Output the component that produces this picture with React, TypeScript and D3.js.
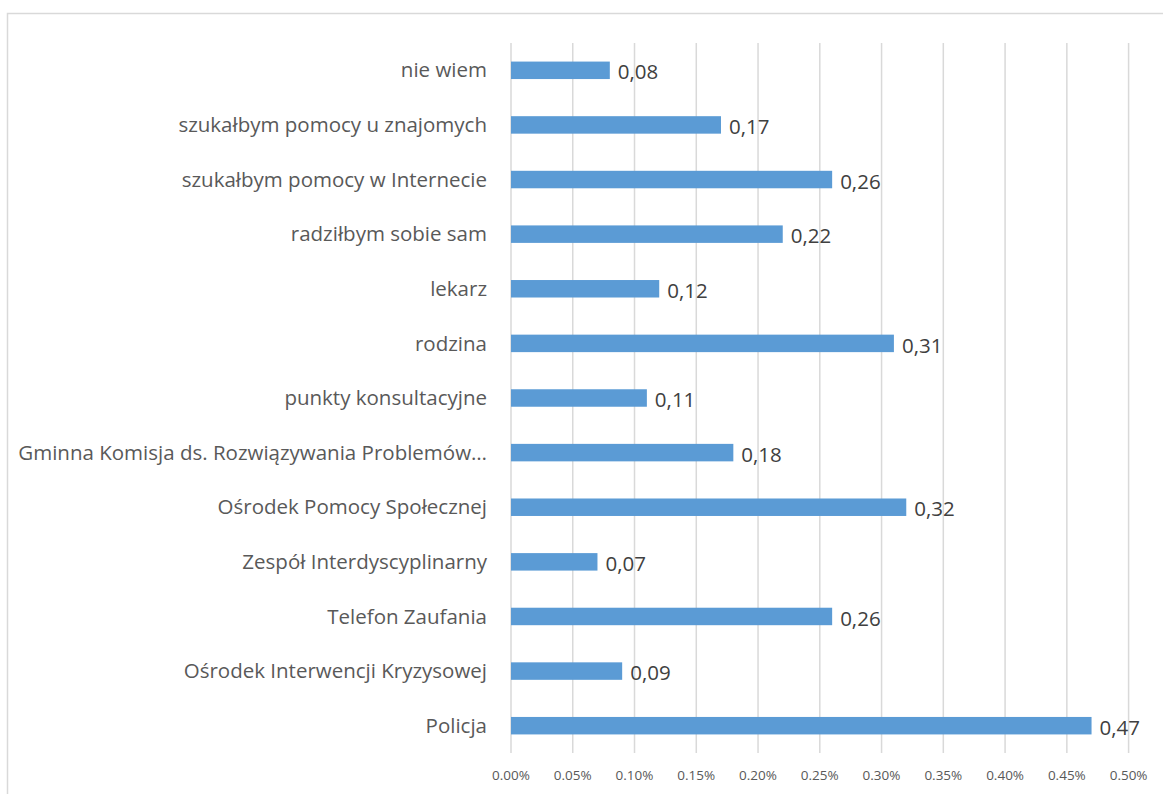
import React, { useEffect, useRef } from 'react';
import * as d3 from 'd3';

// kategorie od góry do dołu
const categories = [
  'nie wiem',
  'szukałbym pomocy u znajomych',
  'szukałbym pomocy w Internecie',
  'radziłbym sobie sam',
  'lekarz',
  'rodzina',
  'punkty konsultacyjne',
  'Gminna Komisja ds. Rozwiązywania Problemów…',
  'Ośrodek Pomocy Społecznej',
  'Zespół Interdyscyplinarny',
  'Telefon Zaufania',
  'Ośrodek Interwencji Kryzysowej',
  'Policja',
];
const values = [0.08, 0.17, 0.26, 0.22, 0.12, 0.31, 0.11, 0.18, 0.32, 0.07, 0.26, 0.09, 0.47];
const tickValues = [0, 0.05, 0.1, 0.15, 0.2, 0.25, 0.3, 0.35, 0.4, 0.45, 0.5];

const App: React.FC = () => {
  const svgRef = useRef<SVGSVGElement | null>(null);

  useEffect(() => {
    if (!svgRef.current) return;
    const width = 1163;
    const height = 794;
    const margin = { top: 43, right: 35, bottom: 41, left: 511 };
    const font = '"Open Sans", "DejaVu Sans", sans-serif';

    const svg = d3.select(svgRef.current);
    svg.selectAll('*').remove();

    // ramka wykresu
    svg.append('rect')
      .attr('x', 7.5).attr('y', 13.5)
      .attr('width', width + 10).attr('height', height + 10)
      .attr('fill', 'white').attr('stroke', '#d9d9d9').attr('stroke-width', 1.5);

    const x = d3.scaleLinear()
      .domain([0, 0.5])
      .range([margin.left, width - margin.right + 0.6]);

    const y = d3.scaleBand()
      .domain(categories)
      .range([margin.top, height - margin.bottom])
      .paddingInner(0.68)
      .paddingOuter(0.34);

    const plotBottom = height - margin.bottom;

    // linie siatki
    svg.append('g')
      .selectAll('line')
      .data(tickValues)
      .join('line')
      .attr('x1', d => x(d)).attr('x2', d => x(d))
      .attr('y1', margin.top).attr('y2', plotBottom)
      .attr('stroke', '#d9d9d9').attr('stroke-width', 1.5);

    // etykiety osi X
    svg.append('g')
      .selectAll('text')
      .data(tickValues)
      .join('text')
      .attr('x', d => x(d))
      .attr('y', plotBottom + 22)
      .attr('dy', '0.35em')
      .attr('text-anchor', 'middle')
      .attr('font-family', font)
      .attr('font-size', 13.5)
      .attr('fill', '#595959')
      .text(d => d.toFixed(2) + '%');

    // słupki
    svg.append('g')
      .selectAll('rect')
      .data(categories)
      .join('rect')
      .attr('x', x(0))
      .attr('y', d => y(d)!)
      .attr('width', (_, i) => x(values[i]) - x(0))
      .attr('height', y.bandwidth())
      .attr('fill', '#5b9bd5');

    // etykiety kategorii
    svg.append('g')
      .selectAll('text')
      .data(categories)
      .join('text')
      .attr('x', margin.left - 24)
      .attr('y', d => y(d)! + y.bandwidth() / 2)
      .attr('dy', '0.35em')
      .attr('text-anchor', 'end')
      .attr('font-family', font)
      .attr('font-size', 20.5)
      .attr('fill', '#595959')
      .text(d => d);

    // etykiety wartości
    svg.append('g')
      .selectAll('text')
      .data(categories)
      .join('text')
      .attr('x', (_, i) => x(values[i]) + 8)
      .attr('y', d => y(d)! + y.bandwidth() / 2 + 2)
      .attr('dy', '0.35em')
      .attr('font-family', font)
      .attr('font-size', 20.5)
      .attr('fill', '#404040')
      .text((_, i) => values[i].toFixed(2).replace('.', ','));
  }, []);

  return (
    <div style={{ position: 'fixed', left: 0, top: 0, width: 1163, height: 794, background: 'white' }}>
      <svg ref={svgRef} width={1163} height={794} style={{ display: 'block' }}></svg>
    </div>
  );
};

export default App;
